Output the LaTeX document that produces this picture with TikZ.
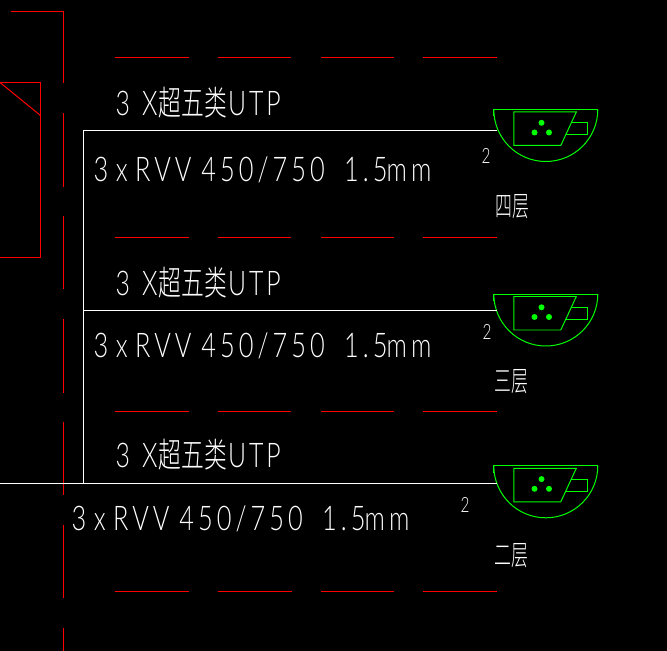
\documentclass[tikz,border=0pt]{standalone}
\usepackage{fontspec}
\usepackage{xcolor}
\newfontfamily\cadfont[FakeStretch=0.73,LetterSpace=8.5]{Lato Light}
\newfontfamily\rvvfont[FakeStretch=0.745,LetterSpace=12]{Lato Light}
\newfontfamily\cjkfont[FakeStretch=0.67]{Noto Sans CJK SC Light}
\newfontfamily\floorfont[FakeStretch=0.6]{Noto Sans CJK SC Light}
\definecolor{cadred}{RGB}{255,0,0}
\definecolor{cadgreen}{RGB}{0,255,0}

\tikzset{grid/.style = {cadred,line width=0.85pt}}
\tikzset{wire/.style = {white,line width=0.85pt}}
\tikzset{sym/.style = {cadgreen,line width=0.85pt}}
\tikzset{cad/.style = {white,inner sep=0,anchor=base west}}
\tikzset{socket/.pic = {
  \draw[sym] (-52,7) -- (-52,0) -- (52,0) -- (52,7);
  \draw[sym] (-52,0) arc (180:0:52);
  \draw[sym] (-32,2.5) -- (30.5,2.5) -- (15,36) -- (-32,36) -- cycle;
  \draw[sym] (25,13.5) -- (41.5,13.5) -- (41.5,25.5) -- (20,25.5);
  \fill[cadgreen] (-4.3,13.3) circle (3);
  \fill[cadgreen] (-11.3,23) circle (3);
  \fill[cadgreen] (3.2,23) circle (3);
}}
\newcommand{\utptext}{\fontsize{29}{29}\selectfont\cadfont 3\hspace{2pt} X\hspace{1pt}\cjkfont 超五类\cadfont\hspace{1pt}UTP}
\newcommand{\rvvtext}{\fontsize{29}{29}\selectfont\rvvfont 3\hspace{-3pt} x\hspace{-3pt} RVV\hspace{-1pt} 450/750\hspace{7pt} 1.5\hspace{-10pt} mm}

\begin{document}
\begin{tikzpicture}[x=0.03cm,y=-0.03cm]
\fill[black] (-0.5,-0.5) rectangle (666.5,650.5);
\useasboundingbox (-0.5,-0.5) rectangle (666.5,650.5);

%grid lines
\draw[grid] (11,11) -- (63,11) -- (63,83);
\draw[grid] (63,113) -- (63,187);
\draw[grid] (63,216) -- (63,289);
\draw[grid] (63,319) -- (63,392);
\draw[grid] (63,421) -- (63,494);
\draw[grid] (63,524) -- (63,597);
\draw[grid] (63,627) -- (63,650.5);
\draw[grid] (114,57) -- (188,57);
\draw[grid] (217,57) -- (290,57);
\draw[grid] (320,57) -- (393,57);
\draw[grid] (422,57) -- (496,57);
\draw[grid] (114,237) -- (188,237);
\draw[grid] (217,237) -- (290,237);
\draw[grid] (320,237) -- (393,237);
\draw[grid] (422,237) -- (496,237);
\draw[grid] (114,411) -- (188,411);
\draw[grid] (217,411) -- (290,411);
\draw[grid] (320,411) -- (393,411);
\draw[grid] (422,411) -- (496,411);
\draw[grid] (114,591) -- (188,591);
\draw[grid] (217,591) -- (291,591);
\draw[grid] (320,591) -- (393,591);
\draw[grid] (422,591) -- (496,591);

%red box
\draw[grid] (-0.5,82) -- (40,82) -- (40,257) -- (-0.5,257);
\draw[grid] (-0.5,82) -- (40,115);

%sockets
\pic at (545.3,109) {socket};
\pic at (545.3,293.5) {socket};
\pic at (545.3,465.3) {socket};

%wires
\coordinate (top) at (83,130);
\coordinate (mid) at (83,310);
\coordinate (low) at (83,483);
\coordinate (left) at (-0.5,483);
\coordinate (s4) at (496.5,130);
\coordinate (s3) at (496.5,310);
\coordinate (s2) at (496.5,483);
\draw[wire] (s4) -- (top) -- (low);
\draw[wire] (mid) -- (s3);
\draw[wire] (left) -- (s2);

%labels
\node[cad] (utp4) at (115,115) {\utptext};
\node[cad] (utp3) at (115,295) {\utptext};
\node[cad] (utp2) at (115,466.7) {\utptext};
\node[cad] (rvv4) at (93,181.5) {\rvvtext};
\node[cad] (rvv3) at (93,357) {\rvvtext};
\node[cad] (rvv2) at (71,530) {\rvvtext};
\node[cad] (sq4) at (481,163) {\fontsize{18}{18}\selectfont\cadfont 2};
\node[cad] (sq3) at (482,339) {\fontsize{18}{18}\selectfont\cadfont 2};
\node[cad] (sq2) at (460,512) {\fontsize{18}{18}\selectfont\cadfont 2};
\node[cad] (fl4) at (495,216.5) {\fontsize{24}{24}\selectfont\floorfont 四层};
\node[cad] (fl3) at (494,391.5) {\fontsize{24}{24}\selectfont\floorfont 三层};
\node[cad] (fl2) at (494,564.5) {\fontsize{24}{24}\selectfont\floorfont 二层};
\end{tikzpicture}
\end{document}
